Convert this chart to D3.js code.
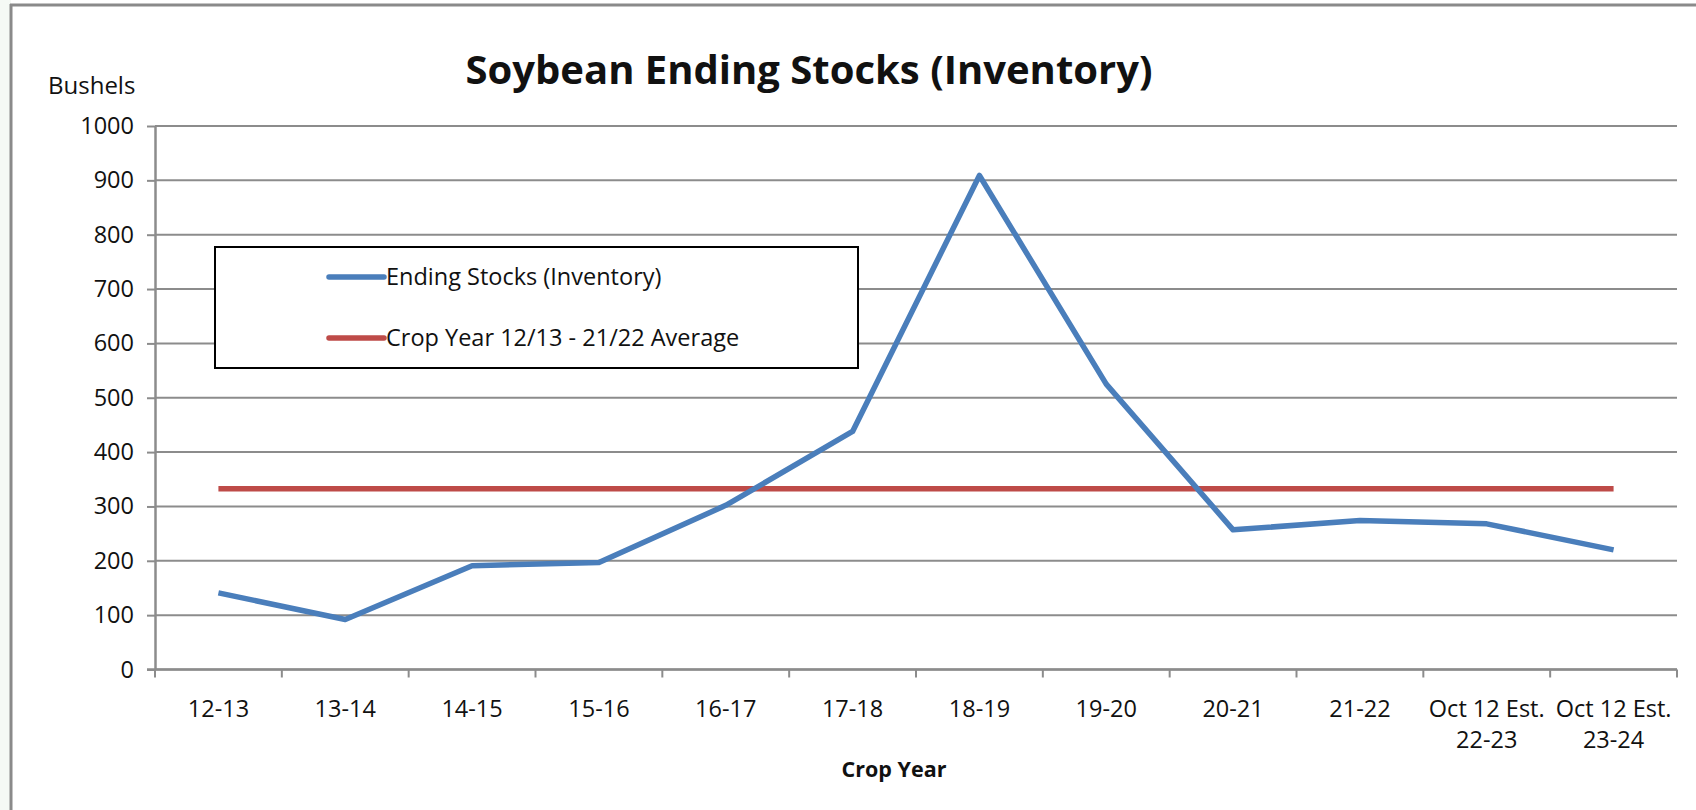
<!DOCTYPE html>
<html>
<head>
<meta charset="utf-8">
<script src="https://cdn.jsdelivr.net/npm/d3@7"></script>
<style>
  body { margin: 0; background: #fff; }
  text { font-family: "Open Sans", Lato, sans-serif; fill: #111; }
</style>
</head>
<body>
<div id="chart"></div>
<script>
// crop years (label lines) and values, million bushels
const cropYears = [["12-13"], ["13-14"], ["14-15"], ["15-16"], ["16-17"], ["17-18"], ["18-19"], ["19-20"], ["20-21"], ["21-22"], ["Oct 12 Est.", "22-23"], ["Oct 12 Est.", "23-24"]];
const endingStocks = [141, 92, 191, 197, 302, 438, 909, 525, 257, 274, 268, 220];
const tenYearAverage = [332.6, 332.6, 332.6, 332.6, 332.6, 332.6, 332.6, 332.6, 332.6, 332.6, 332.6, 332.6];
const yTicks = [0, 100, 200, 300, 400, 500, 600, 700, 800, 900, 1000];
const legendItems = ["Ending Stocks (Inventory)", "Crop Year 12/13 - 21/22 Average"];

const width = 1696;
const height = 810;
const plot = { left: 155, right: 1677, top: 126, bottom: 669.5 };
const blue = "#4a7ebb";
const red = "#be4b48";
const gridColor = "#8c8c8c";
const fontSize = 23.5;

const keys = cropYears.map(d => d.join(" "));

const svg = d3.select("#chart").append("svg").attr("width", width).attr("height", height);

// page strip + chart border
svg.append("rect").attr("x", 0).attr("y", 0).attr("width", 11).attr("height", height).attr("fill", "#f5f9f5");
svg.append("line").attr("x1", 11).attr("x2", 11).attr("y1", 4).attr("y2", height).attr("stroke", "#8a8a8a").attr("stroke-width", 3);
svg.append("line").attr("x1", 10).attr("x2", width).attr("y1", 5).attr("y2", 5).attr("stroke", "#8a8a8a").attr("stroke-width", 3);

const x = d3.scaleBand().domain(keys).range([plot.left, plot.right]);
const y = d3.scaleLinear().domain([0, 1000]).range([plot.bottom, plot.top]);
const cx = k => x(k) + x.bandwidth() / 2;

// gridlines
svg.append("g").selectAll("line").data(yTicks).enter().append("line")
  .attr("x1", plot.left).attr("x2", plot.right)
  .attr("y1", d => y(d)).attr("y2", d => y(d))
  .attr("stroke", gridColor).attr("stroke-width", 2);

// y axis
const yAxis = svg.append("g").attr("transform", `translate(${plot.left},0)`)
  .call(d3.axisLeft(y).tickValues(yTicks).tickFormat(d3.format("d")).tickSize(8).tickPadding(13).tickSizeOuter(0));
yAxis.select(".domain").attr("stroke", gridColor).attr("stroke-width", 2.5);
yAxis.selectAll(".tick line").attr("stroke", gridColor).attr("stroke-width", 2);
yAxis.selectAll(".tick text").attr("font-size", fontSize).attr("fill", "#111").style("font-family", "'Open Sans', sans-serif");

// x axis: ticks at band boundaries
const xAxis = svg.append("g").attr("transform", `translate(0,${plot.bottom})`);
xAxis.append("line").attr("x1", plot.left - 8).attr("x2", plot.right).attr("stroke", gridColor).attr("stroke-width", 2.5);
xAxis.selectAll(".bound").data(keys.map(k => x(k)).concat([plot.right])).enter().append("line")
  .attr("x1", d => d).attr("x2", d => d).attr("y1", 0).attr("y2", 8)
  .attr("stroke", gridColor).attr("stroke-width", 2);
const xLabels = xAxis.selectAll(".lbl").data(cropYears).enter().append("text")
  .attr("text-anchor", "middle").attr("font-size", fontSize)
  .attr("transform", d => `translate(${cx(d.join(" "))},47)`);
xLabels.selectAll("tspan").data(d => d).enter().append("tspan")
  .attr("x", 0).attr("dy", (d, i) => i === 0 ? 0 : 31).text(d => d);

// series
const line = d3.line().x((d, i) => cx(keys[i])).y(d => y(d));
svg.append("path").datum(tenYearAverage).attr("d", line)
  .attr("fill", "none").attr("stroke", red).attr("stroke-width", 5.5);
svg.append("path").datum(endingStocks).attr("d", line)
  .attr("fill", "none").attr("stroke", blue).attr("stroke-width", 5.5).attr("stroke-linejoin", "round");

// legend
const legend = svg.append("g");
legend.append("rect").attr("x", 215).attr("y", 247).attr("width", 643).attr("height", 121)
  .attr("fill", "#fff").attr("stroke", "#000").attr("stroke-width", 2);
legend.selectAll(".item").data(legendItems).enter().append("g")
  .attr("transform", (d, i) => `translate(329,${277 + i * 61})`)
  .each(function (d, i) {
    const g = d3.select(this);
    g.append("line").attr("x1", 0).attr("x2", 55).attr("stroke", i === 0 ? blue : red)
      .attr("stroke-width", 5.5).attr("stroke-linecap", "round");
    g.append("text").attr("x", 57).attr("y", 8).attr("font-size", fontSize).text(d);
  });

// titles
svg.append("text").attr("x", 809).attr("y", 84).attr("text-anchor", "middle")
  .attr("font-size", 40).attr("font-weight", "bold").text("Soybean Ending Stocks (Inventory)");
svg.append("text").attr("x", 48).attr("y", 94).attr("font-size", 24).text("Bushels");
svg.append("text").attr("x", 894).attr("y", 777).attr("text-anchor", "middle")
  .attr("font-size", 21.5).attr("font-weight", "bold").text("Crop Year");
</script>
</body>
</html>
